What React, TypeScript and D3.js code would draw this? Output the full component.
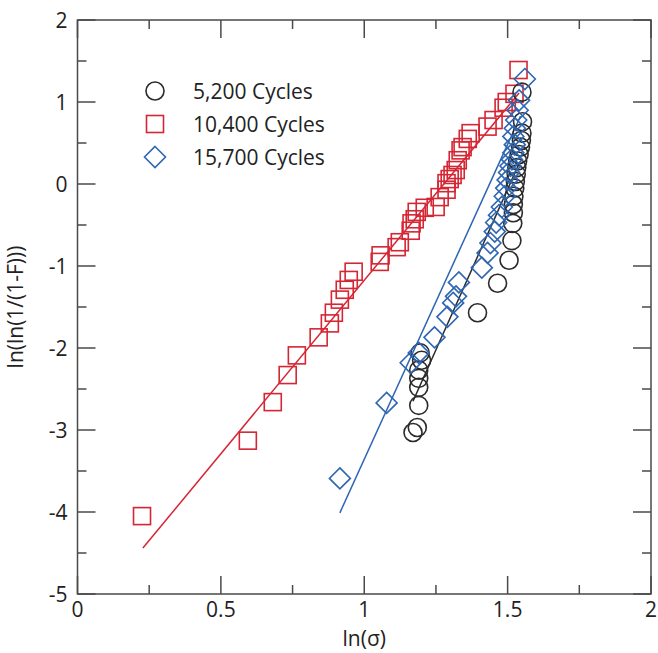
import { scaleLinear, range } from "d3";

const width = 658;
const height = 653;
const Margin = { top: 20, bottom: 59, left: 77.5, right: 7 };

// 5,200 cycles (black circles)
const cyc5200X = [1.17, 1.185, 1.19, 1.19, 1.19, 1.19, 1.2, 1.195, 1.395, 1.465, 1.505, 1.515, 1.518, 1.52, 1.52, 1.522, 1.525, 1.527, 1.53, 1.532, 1.535, 1.54, 1.545, 1.548, 1.55, 1.552, 1.55];
const cyc5200Y = [-3.03, -2.97, -2.7, -2.48, -2.37, -2.27, -2.15, -2.06, -1.57, -1.21, -0.93, -0.69, -0.48, -0.35, -0.25, -0.15, -0.05, 0.03, 0.12, 0.2, 0.28, 0.36, 0.45, 0.53, 0.62, 0.76, 1.12];

// 10,400 cycles (red squares)
const cyc10400X = [0.225, 0.594, 0.681, 0.733, 0.765, 0.841, 0.88, 0.894, 0.915, 0.932, 0.946, 0.963, 1.054, 1.057, 1.113, 1.124, 1.162, 1.165, 1.176, 1.183, 1.211, 1.249, 1.263, 1.287, 1.287, 1.298, 1.308, 1.319, 1.326, 1.336, 1.343, 1.361, 1.371, 1.43, 1.451, 1.486, 1.497, 1.524, 1.538];
const cyc10400Y = [-4.05, -3.13, -2.66, -2.33, -2.09, -1.87, -1.7, -1.57, -1.41, -1.29, -1.17, -1.07, -0.95, -0.87, -0.77, -0.71, -0.57, -0.48, -0.43, -0.34, -0.29, -0.28, -0.16, -0.07, 0.01, 0.06, 0.11, 0.17, 0.29, 0.41, 0.45, 0.55, 0.62, 0.7, 0.78, 0.93, 1.0, 1.1, 1.39];

// 15,700 cycles (blue diamonds)
const cyc15700X = [0.915, 1.078, 1.162, 1.19, 1.245, 1.29, 1.31, 1.32, 1.33, 1.41, 1.43, 1.44, 1.455, 1.46, 1.47, 1.48, 1.49, 1.495, 1.5, 1.505, 1.51, 1.515, 1.52, 1.525, 1.52, 1.525, 1.53, 1.535, 1.54, 1.56];
const cyc15700Y = [-3.59, -2.67, -2.18, -2.06, -1.87, -1.62, -1.45, -1.37, -1.2, -1.02, -0.84, -0.72, -0.58, -0.47, -0.38, -0.28, -0.15, -0.05, 0.05, 0.14, 0.22, 0.3, 0.38, 0.48, 0.58, 0.68, 0.78, 0.9, 1.02, 1.28];

// fitted lines, [x0, x1] and [y0, y1]
const fit5200X = [1.17, 1.54];
const fit5200Y = [-2.65, 0.25];
const fit10400X = [0.228, 1.54];
const fit10400Y = [-4.44, 1.11];
const fit15700X = [0.915, 1.545];
const fit15700Y = [-4.01, 0.83];

const xTicks = [0, 0.5, 1, 1.5, 2];
const xTickLabels = ["0", "0.5", "1", "1.5", "2"];
const yTicks = [-5, -4, -3, -2, -1, 0, 1, 2];
const legendLabels = ["5,200 Cycles", "10,400 Cycles", "15,700 Cycles"];

const BLACK = "#2b2b2b";
const RED = "#d42634";
const BLUE = "#2e66b2";
const AXIS = "#4a4a4a";
const FONT = "'Open Sans', 'Noto Sans', sans-serif";

const innerWidth = width - Margin.left - Margin.right;
const innerHeight = height - Margin.top - Margin.bottom;

function App() {
    const xScale = scaleLinear().domain([0, 2]).range([Margin.left, Margin.left + innerWidth]);
    const yScale = scaleLinear().domain([-5, 2]).range([Margin.top + innerHeight, Margin.top]);
    const x0 = xScale(0), x1 = xScale(2), y0 = yScale(-5), y1 = yScale(2);
    const D = 10.5;
    const diamondPath = `M0,${-D}L${D},0L0,${D}L${-D},0Z`;

    const circle = (cx: number, cy: number, key: any) => (
        <circle key={key} cx={cx} cy={cy} r={9} fill="none" stroke={BLACK} strokeWidth={1.6} />
    );
    const square = (cx: number, cy: number, key: any) => (
        <rect key={key} x={cx - 8.5} y={cy - 8.5} width={17} height={17} fill="none" stroke={RED} strokeWidth={1.6} />
    );
    const diamond = (cx: number, cy: number, key: any) => (
        <path key={key} d={diamondPath} transform={`translate(${cx},${cy})`} fill="none" stroke={BLUE} strokeWidth={1.6} />
    );

    const xMinor = range(0, 2.001, 0.25);
    const yMinor = range(-5, 2.001, 0.5);
    const tickLen = (v: number, major: number) => (Math.abs(v / major - Math.round(v / major)) < 1e-6 ? 18 : 9);

    const fitLine = (xs: number[], ys: number[], color: string) => (
        <line x1={xScale(xs[0])} y1={yScale(ys[0])} x2={xScale(xs[1])} y2={yScale(ys[1])} stroke={color} strokeWidth={1.5} />
    );

    return (
        <svg width={width} height={height} style={{ position: "absolute", left: 0, top: 0 }} fontFamily={FONT}>
            <rect width={width} height={height} fill="#fff" />
            {/* ticks */}
            {xMinor.map((v, i) => {
                const L = tickLen(v, 0.5);
                return (
                    <g key={"xt" + i} stroke={AXIS} strokeWidth={1.5}>
                        <line x1={xScale(v)} x2={xScale(v)} y1={y0} y2={y0 - L} />
                        <line x1={xScale(v)} x2={xScale(v)} y1={y1} y2={y1 + L} />
                    </g>
                );
            })}
            {yMinor.map((v, i) => {
                const L = tickLen(v, 1);
                return (
                    <g key={"yt" + i} stroke={AXIS} strokeWidth={1.5}>
                        <line x1={x0} x2={x0 + L} y1={yScale(v)} y2={yScale(v)} />
                        <line x1={x1} x2={x1 - L} y1={yScale(v)} y2={yScale(v)} />
                    </g>
                );
            })}
            <rect x={x0} y={y1} width={x1 - x0} height={y0 - y1} fill="none" stroke={AXIS} strokeWidth={1.5} />

            {/* tick labels */}
            {xTicks.map((v, i) => (
                <text key={"xl" + i} x={xScale(v)} y={y0 + 23} textAnchor="middle" fontSize={21} fill="#222">
                    {xTickLabels[i]}
                </text>
            ))}
            {yTicks.map((v, i) => (
                <text key={"yl" + i} x={x0 - 10} y={yScale(v) + 7.5} textAnchor="end" fontSize={21} fill="#222">
                    {v}
                </text>
            ))}

            {/* axis titles */}
            <text x={(x0 + x1) / 2} y={646} textAnchor="middle" fontSize={21} fill="#222">ln(σ)</text>
            <text transform={`translate(23,${(y0 + y1) / 2}) rotate(-90)`} textAnchor="middle" fontSize={21} fill="#222">
                ln(ln(1/(1-F)))
            </text>

            {/* fitted lines */}
            {fitLine(fit10400X, fit10400Y, RED)}
            {fitLine(fit15700X, fit15700Y, BLUE)}
            {fitLine(fit5200X, fit5200Y, BLACK)}

            {/* data */}
            <g>{cyc10400X.map((x, i) => square(xScale(x), yScale(cyc10400Y[i]), "s" + i))}</g>
            <g>{cyc5200X.map((x, i) => circle(xScale(x), yScale(cyc5200Y[i]), "c" + i))}</g>
            <g>{cyc15700X.map((x, i) => diamond(xScale(x), yScale(cyc15700Y[i]), "d" + i))}</g>

            {/* legend */}
            {legendLabels.map((label, i) => {
                const ly = 91 + i * 33;
                return (
                    <g key={"lg" + i}>
                        {i === 0 && circle(155, ly, "lc")}
                        {i === 1 && square(155, ly, "ls")}
                        {i === 2 && diamond(155, ly, "ld")}
                        <text x={193} y={ly + 7.5} fontSize={21} fill="#222">{label}</text>
                    </g>
                );
            })}
        </svg>
    );
}

export default App;
